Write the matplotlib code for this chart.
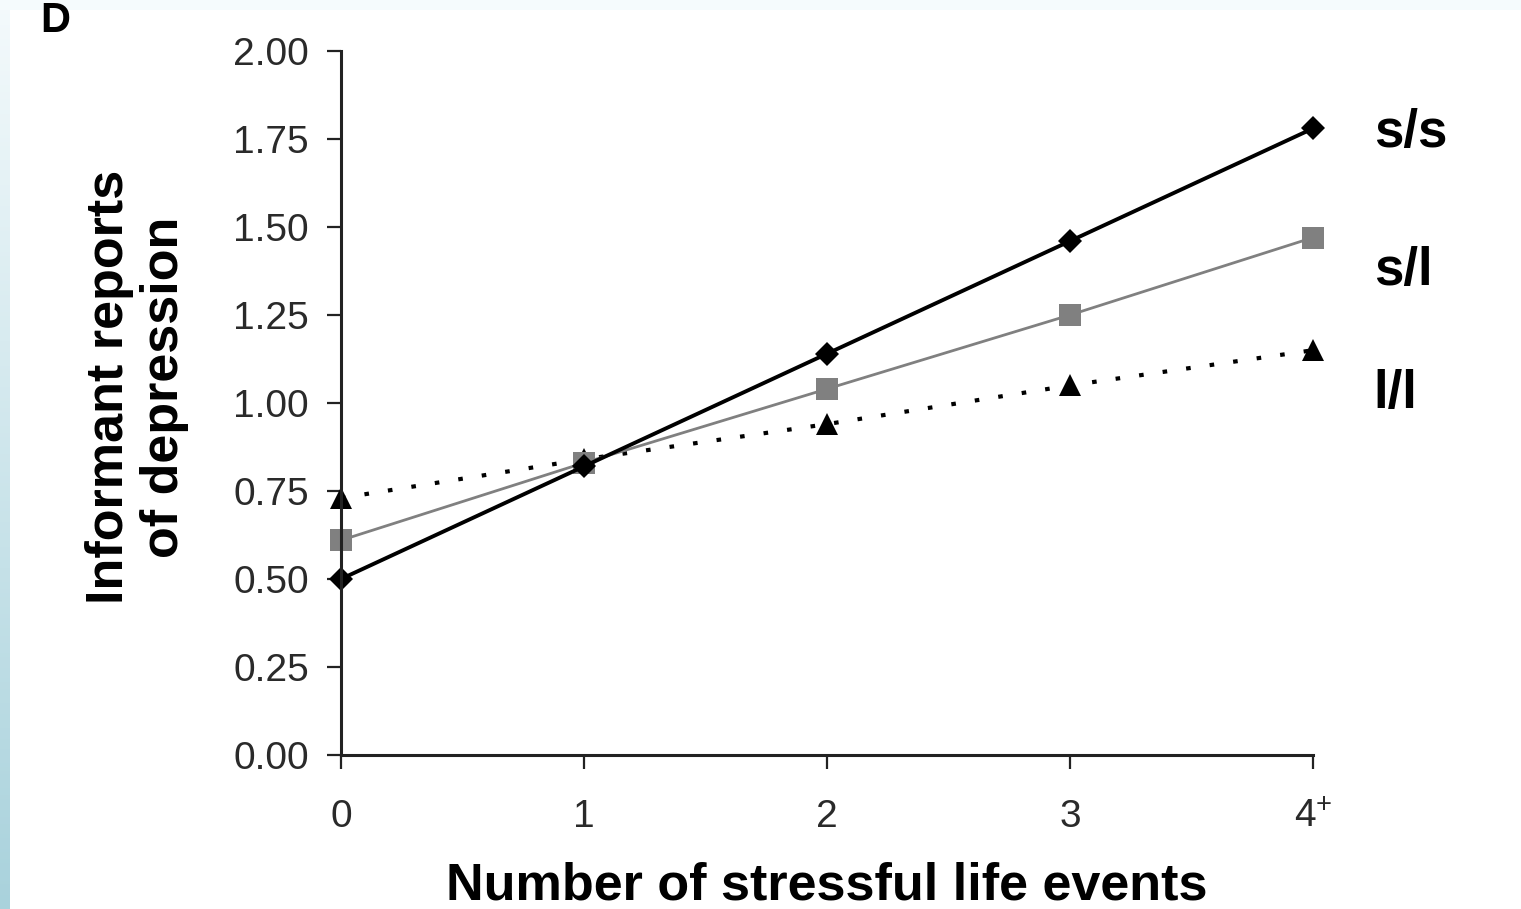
import numpy as np
import matplotlib
matplotlib.use('Agg')
import matplotlib.pyplot as plt

plt.rcParams['font.family'] = ['Liberation Sans', 'DejaVu Sans']
plt.rcParams['mathtext.fontset'] = 'custom'
plt.rcParams['mathtext.rm'] = 'Liberation Sans'
plt.rcParams['mathtext.default'] = 'regular'

events = [0, 1, 2, 3, 4]
event_labels = ['0', '1', '2', '3', '4$^{+}$']
ss = [0.50, 0.82, 1.14, 1.46, 1.78]
sl = [0.61, 0.83, 1.04, 1.25, 1.47]
ll = [0.73, 0.84, 0.94, 1.05, 1.15]
y_ticks = [0.00, 0.25, 0.50, 0.75, 1.00, 1.25, 1.50, 1.75, 2.00]

fig = plt.figure(figsize=(15.21, 9.09), dpi=100)

# light blue strips along the left and top edges
bg = fig.add_axes([0, 0, 1, 1])
bg.set_axis_off()
grad = np.linspace(0, 1, 256).reshape(-1, 1)
bg.imshow(grad, extent=[0, 10 / 1521, 0, 1], aspect='auto', origin='upper',
          cmap=matplotlib.colors.LinearSegmentedColormap.from_list('b', ['#f4fafc', '#a9d2dc']))
bg.axhspan(1 - 10 / 909, 1, color='#f5fbfd', lw=0)
bg.set_xlim(0, 1)
bg.set_ylim(0, 1)

ax = fig.add_axes([341 / 1521, 1 - 755 / 909, 972 / 1521, 704 / 909])
ax.plot(events, ll, color='black', lw=3.0, dashes=(1.1, 4.6), marker='^', ms=16,
        mec='black', mew=0, clip_on=False)
ax.plot(events, sl, color='#808080', lw=2.0, marker='s', ms=16, mec='#808080',
        mew=0, clip_on=False)
ax.plot(events, ss, color='black', lw=2.8, marker='D', ms=12.5, mec='black',
        mew=0, clip_on=False)

ax.set_xlim(0, 4)
ax.set_ylim(0, 2)
ax.set_xticks(events)
ax.set_xticklabels(event_labels)
ax.set_yticks(y_ticks)
ax.set_yticklabels([f'{v:.2f}' for v in y_ticks])
for s in ['top', 'right']:
    ax.spines[s].set_visible(False)
for s in ['left', 'bottom']:
    ax.spines[s].set_linewidth(2.2)
    ax.spines[s].set_color('#222222')
ax.tick_params(axis='both', length=10, width=1.6, color='#222222',
               labelsize=28, labelcolor='#2a2a2a')
ax.tick_params(axis='y', pad=13)
ax.tick_params(axis='x', pad=22)

ax.set_xlabel('Number of stressful life events', fontsize=37.5, fontweight='bold',
              labelpad=19)
ax.set_ylabel('Informant reports\nof depression', fontsize=37.5, fontweight='bold',
              labelpad=32, linespacing=1.15, y=0.5 + 16 / 704)

for name, y in [('s/s', ss[-1] - 0.014), ('s/l', sl[-1] - 0.095), ('l/l', ll[-1] - 0.125)]:
    ax.text(4.25, y, name, fontsize=38, fontweight='bold', va='center', ha='left')

fig.text(40 / 1521, 1 - 1 / 909, 'D', fontsize=30, fontweight='bold', va='top')

fig.savefig('out.png', dpi=100)
